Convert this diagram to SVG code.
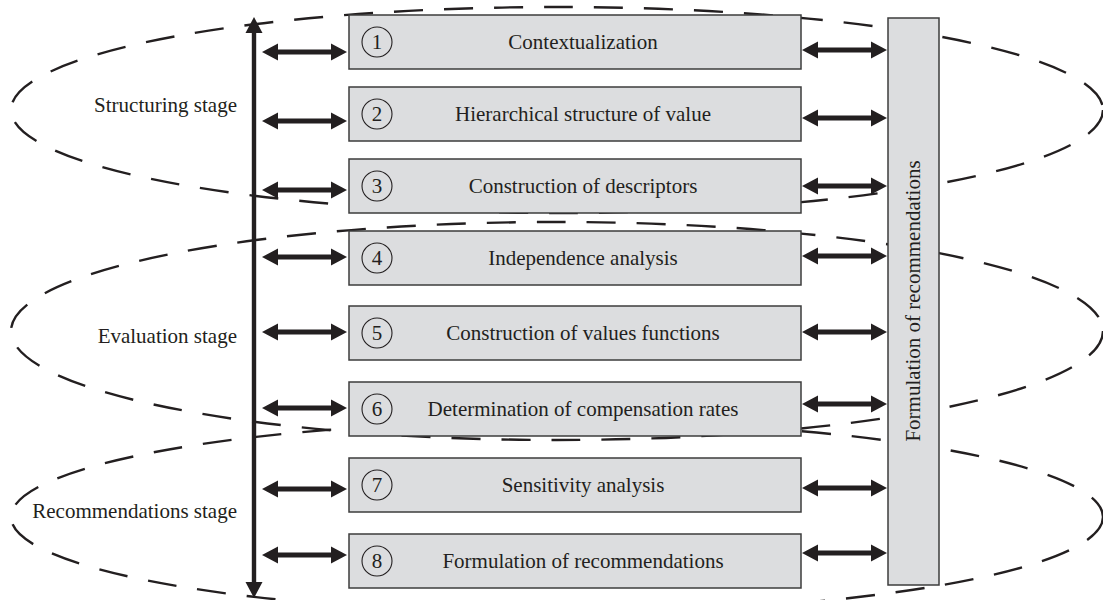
<svg xmlns="http://www.w3.org/2000/svg" xmlns:xlink="http://www.w3.org/1999/xlink" width="1103" height="600" viewBox="0 0 1103 600">
  <style>
    .stage { fill: none; stroke: #231f20; stroke-width: 2.4; stroke-dasharray: 29 21; }
    .lbl { font-family: "Liberation Serif", "Times New Roman", serif; font-size: 21px; fill: #231f20; }
    .box { fill: #dcdddf; stroke: #3c3c3c; stroke-width: 1.5; }
    .num { fill: none; stroke: #231f20; stroke-width: 1.1; }
    .arrow { fill: #231f20; }
  </style>
  <defs>
    <!-- double-headed horizontal arrow, 85 px long, centred on y=0 -->
    <path id="dbl" d="M0,0 L16,-8.5 L16,-2.5 L69,-2.5 L69,-8.5 L85,0 L69,8.5 L69,2.5 L16,2.5 L16,8.5 Z"/>
  </defs>

  <!-- stage ellipses -->
  <g id="stages">
    <ellipse id="stage-structuring" class="stage" cx="557" cy="110" rx="546" ry="103"/>
    <ellipse id="stage-evaluation" class="stage" cx="557" cy="331" rx="546" ry="109"/>
    <ellipse id="stage-recommendations" class="stage" cx="557" cy="517" rx="546" ry="96"/>
    <text class="lbl" x="237" y="112" text-anchor="end">Structuring stage</text>
    <text class="lbl" x="237" y="343" text-anchor="end">Evaluation stage</text>
    <text class="lbl" x="237" y="518" text-anchor="end">Recommendations stage</text>
  </g>

  <!-- connectors -->
  <g id="connectors" class="arrow">
    <path id="timeline" d="M254,17 L262.5,33 L256.2,33 L256.2,582 L262.5,582 L254,598 L245.5,582 L251.8,582 L251.8,33 L245.5,33 Z"/>
    <use xlink:href="#dbl" x="262" y="52"/>
    <use xlink:href="#dbl" x="262" y="121"/>
    <use xlink:href="#dbl" x="262" y="190"/>
    <use xlink:href="#dbl" x="262" y="257"/>
    <use xlink:href="#dbl" x="262" y="332"/>
    <use xlink:href="#dbl" x="262" y="408"/>
    <use xlink:href="#dbl" x="262" y="489"/>
    <use xlink:href="#dbl" x="262" y="555"/>
    <use xlink:href="#dbl" x="802" y="50"/>
    <use xlink:href="#dbl" x="802" y="118"/>
    <use xlink:href="#dbl" x="802" y="186"/>
    <use xlink:href="#dbl" x="802" y="256"/>
    <use xlink:href="#dbl" x="802" y="332"/>
    <use xlink:href="#dbl" x="802" y="404"/>
    <use xlink:href="#dbl" x="802" y="488"/>
    <use xlink:href="#dbl" x="802" y="553"/>
  </g>

  <!-- step boxes -->
  <g id="step-1">
    <rect class="box" x="349" y="15" width="452" height="54"/>
    <circle class="num" cx="377" cy="42" r="15"/>
    <text class="lbl" x="377" y="49" text-anchor="middle">1</text>
    <text class="lbl" x="583" y="49" text-anchor="middle">Contextualization</text>
  </g>
  <g id="step-2">
    <rect class="box" x="349" y="87" width="452" height="54"/>
    <circle class="num" cx="377" cy="114" r="15"/>
    <text class="lbl" x="377" y="121" text-anchor="middle">2</text>
    <text class="lbl" x="583" y="121" text-anchor="middle">Hierarchical structure of value</text>
  </g>
  <g id="step-3">
    <rect class="box" x="349" y="159" width="452" height="54"/>
    <circle class="num" cx="377" cy="186" r="15"/>
    <text class="lbl" x="377" y="193" text-anchor="middle">3</text>
    <text class="lbl" x="583" y="193" text-anchor="middle">Construction of descriptors</text>
  </g>
  <g id="step-4">
    <rect class="box" x="349" y="231" width="452" height="54"/>
    <circle class="num" cx="377" cy="258" r="15"/>
    <text class="lbl" x="377" y="265" text-anchor="middle">4</text>
    <text class="lbl" x="583" y="265" text-anchor="middle">Independence analysis</text>
  </g>
  <g id="step-5">
    <rect class="box" x="349" y="306" width="452" height="54"/>
    <circle class="num" cx="377" cy="333" r="15"/>
    <text class="lbl" x="377" y="340" text-anchor="middle">5</text>
    <text class="lbl" x="583" y="340" text-anchor="middle">Construction of values functions</text>
  </g>
  <g id="step-6">
    <rect class="box" x="349" y="382" width="452" height="54"/>
    <circle class="num" cx="377" cy="409" r="15"/>
    <text class="lbl" x="377" y="416" text-anchor="middle">6</text>
    <text class="lbl" x="583" y="416" text-anchor="middle">Determination of compensation rates</text>
  </g>
  <g id="step-7">
    <rect class="box" x="349" y="458" width="452" height="54"/>
    <circle class="num" cx="377" cy="485" r="15"/>
    <text class="lbl" x="377" y="492" text-anchor="middle">7</text>
    <text class="lbl" x="583" y="492" text-anchor="middle">Sensitivity analysis</text>
  </g>
  <g id="step-8">
    <rect class="box" x="349" y="534" width="452" height="54"/>
    <circle class="num" cx="377" cy="561" r="15"/>
    <text class="lbl" x="377" y="568" text-anchor="middle">8</text>
    <text class="lbl" x="583" y="568" text-anchor="middle">Formulation of recommendations</text>
  </g>

  <!-- side panel -->
  <g id="recommendations-panel">
    <rect class="box" x="888" y="18" width="51" height="567"/>
    <text class="lbl" x="0" y="0" text-anchor="middle" transform="translate(920,301) rotate(-90)">Formulation of recommendations</text>
  </g>
</svg>
